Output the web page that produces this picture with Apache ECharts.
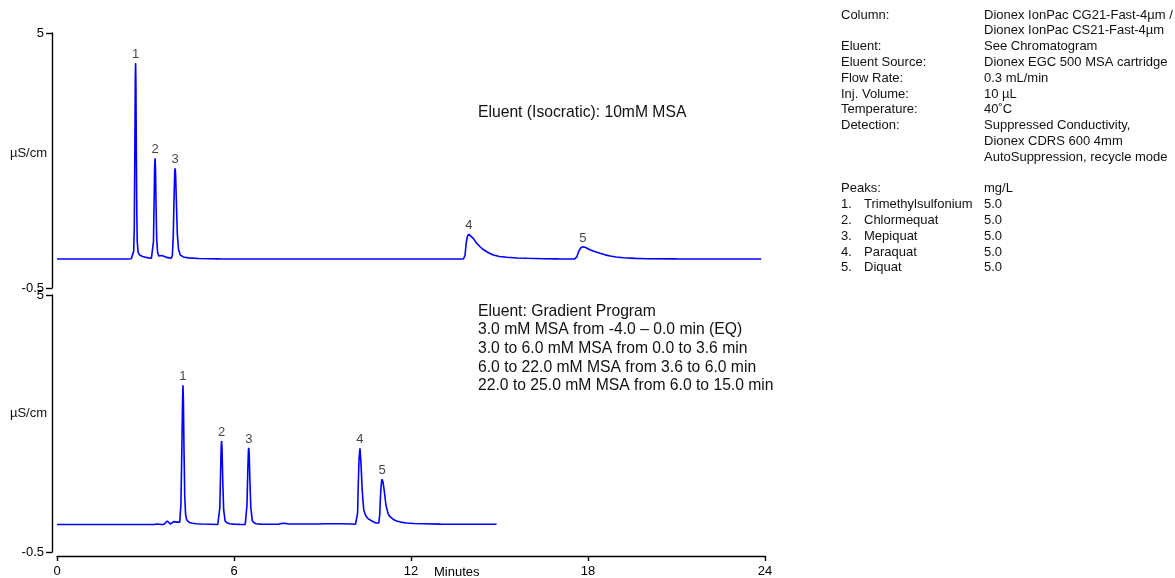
<!DOCTYPE html>
<html><head><meta charset="utf-8">
<script src="https://cdn.jsdelivr.net/npm/echarts@6/dist/echarts.min.js"></script>
<style>html,body{margin:0;padding:0;background:#fff}#c{width:1175px;height:578px}</style>
</head><body><div id="c"></div>
<script>
// ---------- data ----------
const xTickValues = [0, 6, 12, 18, 24];
const yTickValues = [-0.5, 5];

// Top chromatogram: isocratic 10 mM MSA  [minutes, µS/cm]
const topTrace = [
 [0,0.125],[1.0,0.125],[2.0,0.125],[2.4,0.126],[2.52,0.13],[2.57,0.17],[2.60,0.3],[2.62,0.8],[2.64,2.6],[2.655,4.1],[2.665,4.35],[2.675,3.9],[2.69,2.4],[2.705,1.1],[2.72,0.5],[2.75,0.27],[2.8,0.21],[2.9,0.18],[3.0,0.165],[3.1,0.15],[3.2,0.14],[3.24,0.16],[3.27,0.5],[3.29,1.3],[3.31,2.1],[3.325,2.3],[3.34,2.05],[3.36,1.2],[3.38,0.55],[3.41,0.27],[3.45,0.19],[3.5,0.17],[3.55,0.2],[3.6,0.21],[3.65,0.18],[3.72,0.16],[3.8,0.15],[3.87,0.145],[3.91,0.2],[3.94,0.6],[3.97,1.5],[3.99,2.0],[4.005,2.08],[4.02,1.95],[4.05,1.3],[4.08,0.65],[4.12,0.33],[4.18,0.21],[4.28,0.17],[4.45,0.15],[4.8,0.135],[5.5,0.128],[7,0.125],[10,0.125],[13.0,0.125],[13.78,0.127],[13.83,0.2],[13.87,0.46],[13.91,0.61],[13.96,0.658],[14.02,0.64],[14.11,0.57],[14.22,0.47],[14.34,0.39],[14.45,0.33],[14.57,0.283],[14.68,0.245],[14.79,0.212],[15.0,0.18],[15.25,0.162],[15.6,0.148],[15.93,0.141],[16.5,0.132],[17.0,0.128],[17.55,0.127],[17.62,0.17],[17.68,0.283],[17.76,0.37],[17.83,0.39],[17.92,0.375],[18.08,0.32],[18.25,0.28],[18.41,0.248],[18.58,0.215],[18.75,0.19],[18.95,0.17],[19.2,0.153],[19.6,0.14],[20.0,0.132],[21,0.128],[22,0.126],[23.87,0.125]
];

// Bottom chromatogram: gradient program  [minutes, µS/cm]
const bottomTrace = [
 [0,0.09],[2,0.09],[3.0,0.088],[3.3,0.09],[3.38,0.1],[3.42,0.106],[3.47,0.095],[3.55,0.088],[3.62,0.09],[3.68,0.12],[3.74,0.163],[3.79,0.13],[3.84,0.099],[3.9,0.11],[3.96,0.15],[4.02,0.185],[4.07,0.14],[4.11,0.11],[4.16,0.14],[4.2,0.5],[4.23,1.6],[4.255,2.7],[4.27,3.07],[4.285,2.75],[4.305,1.7],[4.33,0.7],[4.36,0.3],[4.4,0.185],[4.49,0.13],[4.6,0.115],[4.72,0.106],[4.9,0.098],[5.2,0.093],[5.45,0.088],[5.49,0.12],[5.52,0.45],[5.545,1.2],[5.565,1.75],[5.58,1.875],[5.595,1.7],[5.62,1.0],[5.65,0.4],[5.70,0.16],[5.78,0.12],[5.85,0.106],[6.0,0.096],[6.2,0.092],[6.38,0.09],[6.41,0.12],[6.44,0.5],[6.47,1.3],[6.49,1.68],[6.50,1.73],[6.515,1.6],[6.54,1.0],[6.57,0.45],[6.62,0.17],[6.68,0.125],[6.75,0.105],[6.9,0.097],[7.2,0.093],[7.5,0.093],[7.6,0.11],[7.66,0.14],[7.72,0.115],[7.85,0.1],[8.3,0.098],[8.8,0.1],[9.2,0.104],[9.6,0.105],[10.0,0.1],[10.12,0.095],[10.16,0.12],[10.19,0.33],[10.21,0.9],[10.24,1.5],[10.27,1.72],[10.30,1.45],[10.34,0.9],[10.37,0.6],[10.40,0.4],[10.45,0.3],[10.49,0.255],[10.55,0.21],[10.61,0.185],[10.72,0.148],[10.82,0.12],[10.88,0.11],[10.91,0.12],[10.94,0.3],[10.97,0.756],[11.0,1.0],[11.02,1.056],[11.05,1.0],[11.09,0.827],[11.15,0.506],[11.22,0.328],[11.28,0.26],[11.34,0.221],[11.42,0.19],[11.51,0.163],[11.65,0.14],[11.85,0.12],[12.1,0.11],[12.42,0.105],[13.0,0.097],[14.0,0.093],[14.9,0.093]
];

// Peak labels
const peakLabels = ['1', '2', '3', '4', '5'];
const topPeakTimes = [2.665, 3.325, 4.005, 13.96, 17.83];
const topPeakHeights = [4.35, 2.30, 2.08, 0.658, 0.39];
const bottomPeakTimes = [4.27, 5.58, 6.50, 10.27, 11.02];
const bottomPeakHeights = [3.07, 1.875, 1.73, 1.72, 1.056];

// Annotation texts
const isocraticText = 'Eluent (Isocratic): 10mM MSA';
const gradientLines = [
 'Eluent: Gradient Program',
 '3.0 mM MSA from -4.0 \u2013 0.0 min (EQ)',
 '3.0 to 6.0 mM MSA from 0.0 to 3.6 min',
 '6.0 to 22.0 mM MSA from 3.6 to 6.0 min',
 '22.0 to 25.0 mM MSA from 6.0 to 15.0 min'
];
const conditionLabels = ['Column:', '', 'Eluent:', 'Eluent Source:', 'Flow Rate:', 'Inj. Volume:', 'Temperature:', 'Detection:', '', '', '', 'Peaks:'];
const conditionValues = ['Dionex IonPac CG21-Fast-4\u00b5m /', 'Dionex IonPac CS21-Fast-4\u00b5m', 'See Chromatogram', 'Dionex EGC 500 MSA cartridge', '0.3 mL/min', '10 \u00b5L', '40\u02daC', 'Suppressed Conductivity,', 'Dionex CDRS 600 4mm', 'AutoSuppression, recycle mode', '', 'mg/L'];
const peakNumbers = ['1.', '2.', '3.', '4.', '5.'];
const peakNames = ['Trimethylsulfonium', 'Chlormequat', 'Mepiquat', 'Paraquat', 'Diquat'];
const peakAmounts = ['5.0', '5.0', '5.0', '5.0', '5.0'];
const yUnit = '\u00b5S/cm';
const xUnit = 'Minutes';

// ---------- chart ----------
const FF = '"Liberation Sans", Arial, Helvetica, sans-serif';
const chart = echarts.init(document.getElementById('c'), null, {renderer: 'canvas'});

function yAxisDef(gi) {
  return {
    type: 'value', gridIndex: gi, min: -0.5, max: 5, offset: 5,
    axisLine: {show: true, onZero: false, lineStyle: {color: '#000', width: 1.4}},
    axisTick: {show: true, length: 6, customValues: yTickValues, lineStyle: {color: '#000', width: 1.4}},
    axisLabel: {show: true, customValues: yTickValues, margin: 8, color: '#000', fontSize: 13, fontFamily: FF,
                formatter: v => String(v)},
    splitLine: {show: false}
  };
}
function labelSeries(xi, times, heights) {
  return {
    type: 'scatter', xAxisIndex: xi, yAxisIndex: xi, symbolSize: 0, silent: true,
    data: times.map((t, i) => [t, heights[i], peakLabels[i]]),
    label: {show: true, position: 'top', distance: 2, formatter: p => p.data[2],
            color: '#111', fontSize: 13, fontFamily: FF}
  };
}
const lineStyle = {color: '#0000ff', width: 1.6};
const rightFont = '13px ' + FF;
const LH = 15.8;
const rightTop = 7.1;
const mainFont = '15.7px ' + FF;

const option = {
  animation: false,
  backgroundColor: '#fff',
  grid: [
    {left: 57, right: 410, top: 33, height: 255},
    {left: 57, right: 410, top: 295, height: 257}
  ],
  xAxis: [
    {type: 'value', gridIndex: 0, min: 0, max: 24, interval: 6, show: false},
    {type: 'value', gridIndex: 1, min: 0, max: 24, interval: 6, offset: 4,
     axisLine: {show: true, onZero: false, lineStyle: {color: '#000', width: 1.4}},
     axisTick: {show: true, inside: false, length: 5, lineStyle: {color: '#000', width: 1.4}},
     axisLabel: {color: '#000', fontSize: 13, fontFamily: FF, margin: 9},
     splitLine: {show: false}}
  ],
  yAxis: [yAxisDef(0), yAxisDef(1)],
  series: [
    {type: 'line', xAxisIndex: 0, yAxisIndex: 0, data: topTrace, showSymbol: false, symbol: 'none',
     lineStyle: lineStyle, silent: true},
    {type: 'line', xAxisIndex: 1, yAxisIndex: 1, data: bottomTrace, showSymbol: false, symbol: 'none',
     lineStyle: lineStyle, silent: true},
    labelSeries(0, topPeakTimes, topPeakHeights),
    labelSeries(1, bottomPeakTimes, bottomPeakHeights)
  ],
  graphic: [
    {type: 'text', x: 47, y: 153, style: {text: yUnit, align: 'right', verticalAlign: 'middle', font: '13px ' + FF, fill: '#111'}},
    {type: 'text', x: 47, y: 413, style: {text: yUnit, align: 'right', verticalAlign: 'middle', font: '13px ' + FF, fill: '#111'}},
    {type: 'text', x: 434, y: 572, style: {text: xUnit, align: 'left', verticalAlign: 'middle', font: '13px ' + FF, fill: '#000'}},
    {type: 'text', x: 478, y: 113, style: {text: isocraticText, align: 'left', verticalAlign: 'middle', font: mainFont, fill: '#111'}},
    {type: 'text', x: 478, y: 302, style: {text: gradientLines.join('\n'), align: 'left', verticalAlign: 'top', font: mainFont, lineHeight: 18.7, fill: '#111'}},
    {type: 'text', x: 841, y: rightTop, style: {text: conditionLabels.concat(peakNumbers).join('\n'), align: 'left', verticalAlign: 'top', font: rightFont, lineHeight: LH, fill: '#111'}},
    {type: 'text', x: 984, y: rightTop, style: {text: conditionValues.concat(peakAmounts).join('\n'), align: 'left', verticalAlign: 'top', font: rightFont, lineHeight: LH, fill: '#111'}},
    {type: 'text', x: 864, y: rightTop + LH * conditionLabels.length, style: {text: peakNames.join('\n'), align: 'left', verticalAlign: 'top', font: rightFont, lineHeight: LH, fill: '#111'}}
  ]
};
chart.setOption(option);
</script>
</body></html>
